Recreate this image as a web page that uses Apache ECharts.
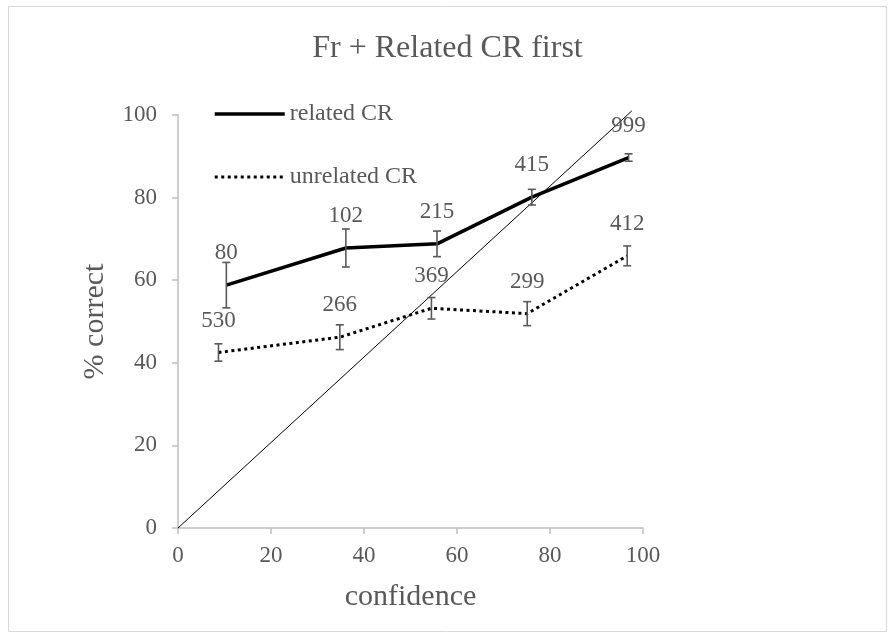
<!DOCTYPE html>
<html><head><meta charset="utf-8">
<script src="https://cdn.jsdelivr.net/npm/echarts@6/dist/echarts.min.js"></script>
<style>html,body{margin:0;padding:0;background:#fff}#c{width:895px;height:637px}</style>
</head><body><div id="c"></div>
<script>
var titleText = 'Fr + Related CR first';
var seriesNames = ['related CR', 'unrelated CR'];
var relatedX = [10.4, 36.1, 55.7, 76.1, 96.9];
var relatedY = [58.8, 67.8, 68.8, 80.1, 89.7];
var relatedErr = [5.5, 4.6, 3.1, 1.9, 0.9];
var relatedN = [80, 102, 215, 415, 999];
var unrelatedX = [8.7, 34.8, 54.5, 75.1, 96.6];
var unrelatedY = [42.5, 46.2, 53.2, 51.9, 65.9];
var unrelatedErr = [2.1, 3.0, 2.6, 2.9, 2.4];
var unrelatedN = [530, 266, 369, 299, 412];
var diagX = [0, 97.6];
var diagY = [0, 101];

var FONT = '"Liberation Serif", "Times New Roman", serif';
var GRAY = '#595959';

function pts(xs, ys) { return xs.map(function (x, i) { return [x, ys[i]]; }); }
function errData(xs, ys, es, ns) { return xs.map(function (x, i) { return [x, ys[i] - es[i], ys[i] + es[i], ys[i], ns[i]]; }); }

function errRender(params, api) {
  var x = api.value(0);
  var lo = api.coord([x, api.value(1)]);
  var hi = api.coord([x, api.value(2)]);
  var mid = api.coord([x, api.value(3)]);
  var h = 4;
  var st = { stroke: GRAY, lineWidth: 1.6 };
  return { type: 'group', children: [
    { type: 'line', shape: { x1: lo[0], y1: lo[1], x2: hi[0], y2: hi[1] }, style: st },
    { type: 'line', shape: { x1: lo[0] - h, y1: lo[1], x2: lo[0] + h, y2: lo[1] }, style: st },
    { type: 'line', shape: { x1: hi[0] - h, y1: hi[1], x2: hi[0] + h, y2: hi[1] }, style: st },
    { type: 'text', x: mid[0], y: mid[1] - 32, style: { text: String(api.value(4)), fill: GRAY, font: '23px ' + FONT, textAlign: 'center', textVerticalAlign: 'middle' } }
  ]};
}

var chart = echarts.init(document.getElementById('c'), null, { renderer: 'canvas' });
chart.setOption({
  animation: false,
  backgroundColor: '#fff',
  graphic: [{ type: 'rect', shape: { x: 8.5, y: 6.5, width: 878, height: 625 }, style: { fill: 'none', stroke: '#d9d9d9', lineWidth: 1 }, silent: true }],
  title: { text: titleText, left: 'center', top: 28, textStyle: { fontFamily: FONT, fontSize: 32, fontWeight: 'normal', color: GRAY } },
  legend: {
    data: [
      { name: seriesNames[0], lineStyle: { width: 3.5, color: '#000', type: 'solid' } },
      { name: seriesNames[1], lineStyle: { width: 3, color: '#000', type: [3, 3.5] } }
    ],
    orient: 'vertical', left: 208, top: 96, itemWidth: 70, itemHeight: 14, itemGap: 37,
    itemStyle: { color: 'rgba(0,0,0,0)', borderWidth: 0, opacity: 0 },
    textStyle: { fontFamily: FONT, fontSize: 24, color: GRAY, lineHeight: 26 }
  },
  grid: { left: 178, right: 252, top: 115, bottom: 109 },
  xAxis: {
    type: 'value', min: 0, max: 100, interval: 20,
    name: 'confidence', nameLocation: 'middle', nameGap: 54,
    nameTextStyle: { fontFamily: FONT, fontSize: 30, color: GRAY },
    axisLine: { show: true, lineStyle: { color: '#bfbfbf', width: 1.5 } },
    axisTick: { show: true, length: 6, lineStyle: { color: '#bfbfbf', width: 1.5 } },
    axisLabel: { fontFamily: FONT, fontSize: 23, color: GRAY, margin: 16 },
    splitLine: { show: false }
  },
  yAxis: {
    type: 'value', min: 0, max: 100, interval: 20,
    name: '% correct', nameLocation: 'middle', nameGap: 68, nameRotate: 90,
    nameTextStyle: { fontFamily: FONT, fontSize: 30, color: GRAY },
    axisLine: { show: true, lineStyle: { color: '#bfbfbf', width: 1.5 } },
    axisTick: { show: true, length: 6, lineStyle: { color: '#bfbfbf', width: 1.5 } },
    axisLabel: { fontFamily: FONT, fontSize: 23, color: GRAY, margin: 21 },
    splitLine: { show: false }
  },
  series: [
    { name: 'diag', type: 'line', data: pts(diagX, diagY), symbol: 'none', clip: false,
      lineStyle: { color: '#000', width: 1 }, z: 1, silent: true },
    { name: seriesNames[0], type: 'line', data: pts(relatedX, relatedY), symbol: 'none',
      itemStyle: { color: '#000' }, lineStyle: { color: '#000', width: 3.5 }, z: 3 },
    { name: seriesNames[1], type: 'line', data: pts(unrelatedX, unrelatedY), symbol: 'none',
      itemStyle: { color: '#000' }, lineStyle: { color: '#000', width: 3, type: [3, 3.5] }, z: 3 },
    { name: 'errR', type: 'custom', renderItem: errRender, data: errData(relatedX, relatedY, relatedErr, relatedN), z: 4, silent: true },
    { name: 'errU', type: 'custom', renderItem: errRender, data: errData(unrelatedX, unrelatedY, unrelatedErr, unrelatedN), z: 4, silent: true }
  ]
});
</script></body></html>
